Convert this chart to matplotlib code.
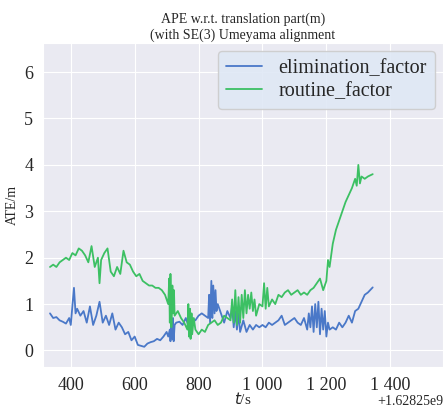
import numpy as np
import matplotlib
matplotlib.use("Agg")
import matplotlib.pyplot as plt
import seaborn as sns
from matplotlib.ticker import FuncFormatter

# time offsets (s) relative to 1.62825e9, ATE values (m)
t_elim = [335, 345, 355, 365, 375, 385, 395, 400, 405, 410, 415, 420, 430, 440, 450,
          460, 470, 480, 490, 500, 510, 520, 530, 540, 550, 560, 570, 580, 590, 600,
          610, 620, 630, 640, 650, 660, 670, 680, 690, 700, 705, 710, 712, 715, 718,
          720, 722, 725, 730, 740, 750, 760, 770, 780, 790, 800, 810, 820, 830, 833,
          836, 840, 843, 846, 850, 853, 856, 860, 870, 880, 890, 900, 905, 910, 915,
          920, 925, 930, 940, 950, 960, 970, 980, 990, 1000, 1010, 1020, 1030, 1040,
          1050, 1060, 1070, 1080, 1090, 1100, 1110, 1120, 1130, 1140, 1145, 1150, 1155,
          1160, 1165, 1170, 1175, 1180, 1185, 1190, 1195, 1200, 1205, 1210, 1220, 1230,
          1240, 1250, 1260, 1270, 1280, 1290, 1300, 1310, 1320, 1330, 1345]
ate_elim = [0.80, 0.70, 0.72, 0.65, 0.62, 0.58, 0.70, 0.55, 0.95, 1.35, 0.80, 0.90, 0.75,
            0.85, 0.60, 0.95, 0.55, 0.75, 1.05, 0.60, 0.75, 0.55, 0.80, 0.45, 0.60, 0.50,
            0.35, 0.40, 0.22, 0.30, 0.12, 0.10, 0.08, 0.15, 0.18, 0.20, 0.25, 0.22, 0.30,
            0.40, 0.30, 0.45, 0.20, 0.60, 0.25, 0.70, 0.20, 0.55, 0.60, 0.62, 0.55, 0.70,
            0.50, 0.70, 0.65, 0.75, 0.80, 0.75, 0.70, 1.20, 0.60, 1.50, 0.70, 1.40, 0.80,
            1.30, 0.85, 1.00, 0.80, 0.60, 0.85, 0.70, 0.95, 0.50, 0.85, 0.45, 0.80, 0.40,
            0.65, 0.40, 0.55, 0.45, 0.55, 0.50, 0.55, 0.50, 0.60, 0.55, 0.60, 0.65, 0.75,
            0.55, 0.60, 0.65, 0.70, 0.60, 0.55, 0.70, 0.45, 0.80, 0.50, 0.95, 0.40, 1.00,
            0.50, 1.05, 0.35, 0.90, 0.45, 0.85, 0.30, 0.60, 0.45, 0.50, 0.45, 0.60, 0.50,
            0.60, 0.75, 0.60, 0.85, 0.90, 1.05, 1.20, 1.25, 1.36]

t_rout = [335, 345, 355, 365, 375, 385, 395, 405, 415, 425, 435, 445, 455, 465, 475,
          485, 490, 495, 505, 515, 525, 535, 545, 555, 565, 575, 585, 595, 605, 615,
          625, 635, 645, 655, 665, 675, 685, 695, 705, 708, 710, 712, 715, 718, 720,
          723, 725, 735, 745, 755, 765, 768, 770, 773, 775, 778, 780, 785, 790, 800,
          810, 820, 830, 840, 850, 860, 870, 880, 890, 900, 905, 910, 915, 920, 925,
          930, 935, 940, 945, 950, 955, 960, 965, 970, 975, 980, 990, 1000, 1005, 1010,
          1015, 1020, 1030, 1040, 1050, 1060, 1070, 1080, 1090, 1100, 1110, 1120, 1130,
          1140, 1150, 1160, 1170, 1180, 1190, 1200, 1205, 1210, 1220, 1230, 1240, 1250,
          1260, 1270, 1280, 1290, 1295, 1300, 1305, 1310, 1320, 1330, 1345]
ate_rout = [1.80, 1.85, 1.80, 1.90, 1.95, 2.00, 1.95, 2.10, 2.05, 2.20, 2.15, 2.05, 1.90,
            2.25, 1.80, 2.00, 1.45, 1.95, 2.10, 2.20, 1.70, 1.60, 1.80, 1.65, 2.15, 1.90,
            1.85, 1.70, 1.60, 1.65, 1.50, 1.45, 1.40, 1.40, 1.35, 1.35, 1.30, 1.20, 1.00,
            1.55, 0.60, 1.65, 0.50, 1.40, 0.80, 1.30, 0.75, 0.85, 0.70, 0.60, 0.45, 1.00,
            0.30, 0.90, 0.25, 0.80, 0.35, 0.70, 0.45, 0.35, 0.45, 0.40, 0.55, 0.60, 0.65,
            0.55, 0.60, 0.75, 0.70, 0.65, 1.10, 0.60, 1.30, 0.55, 1.15, 0.60, 1.20, 0.70,
            1.30, 0.80, 1.20, 0.90, 1.25, 0.85, 1.10, 0.75, 1.00, 0.95, 1.45, 0.90, 1.35,
            0.95, 1.10, 1.00, 1.20, 1.15, 1.25, 1.30, 1.20, 1.25, 1.30, 1.20, 1.25, 1.20,
            1.30, 1.35, 1.45, 1.55, 1.30, 1.50, 1.95, 1.80, 2.30, 2.60, 2.80, 3.00, 3.20,
            3.35, 3.50, 3.70, 3.55, 4.00, 3.60, 3.75, 3.70, 3.75, 3.80]

sns.set_style("darkgrid")
plt.rcParams['font.family'] = ['Liberation Serif', 'DejaVu Serif']

fig = plt.figure(figsize=(4.43, 4.08), dpi=100)
ax = fig.add_axes([0.097, 0.100, 0.903, 0.795])

ax.plot(t_elim, ate_elim, color='#4a78c8', lw=1.3, label='elimination_factor')
ax.plot(t_rout, ate_rout, color='#3cc063', lw=1.3, label='routine_factor')

ax.set_xlim(313, 1565)
ax.set_ylim(-0.36, 6.63)
ax.set_xticks([400, 600, 800, 1000, 1200, 1400])
ax.set_yticks([0, 1, 2, 3, 4, 5, 6])
ax.xaxis.set_major_formatter(FuncFormatter(lambda v, p: f"{int(v):,}".replace(",", " ")))
ax.tick_params(labelsize=13)

ax.set_title("APE w.r.t. translation part(m)\n(with SE(3) Umeyama alignment", fontsize=10, pad=3)
ax.set_ylabel("ATE/m", fontsize=10)
ax.set_xlabel("$t$/s", fontsize=11, labelpad=-2)
ax.text(1.0, -0.085, "+1.62825e9", transform=ax.transAxes, ha='right', va='top', fontsize=10)

ax.legend(loc='upper right', fontsize=14.5, handlelength=1.8, borderaxespad=0.4,
          labelspacing=0.2, facecolor='#dfe8f5', framealpha=0.9)

plt.savefig("out.png", dpi=100)
